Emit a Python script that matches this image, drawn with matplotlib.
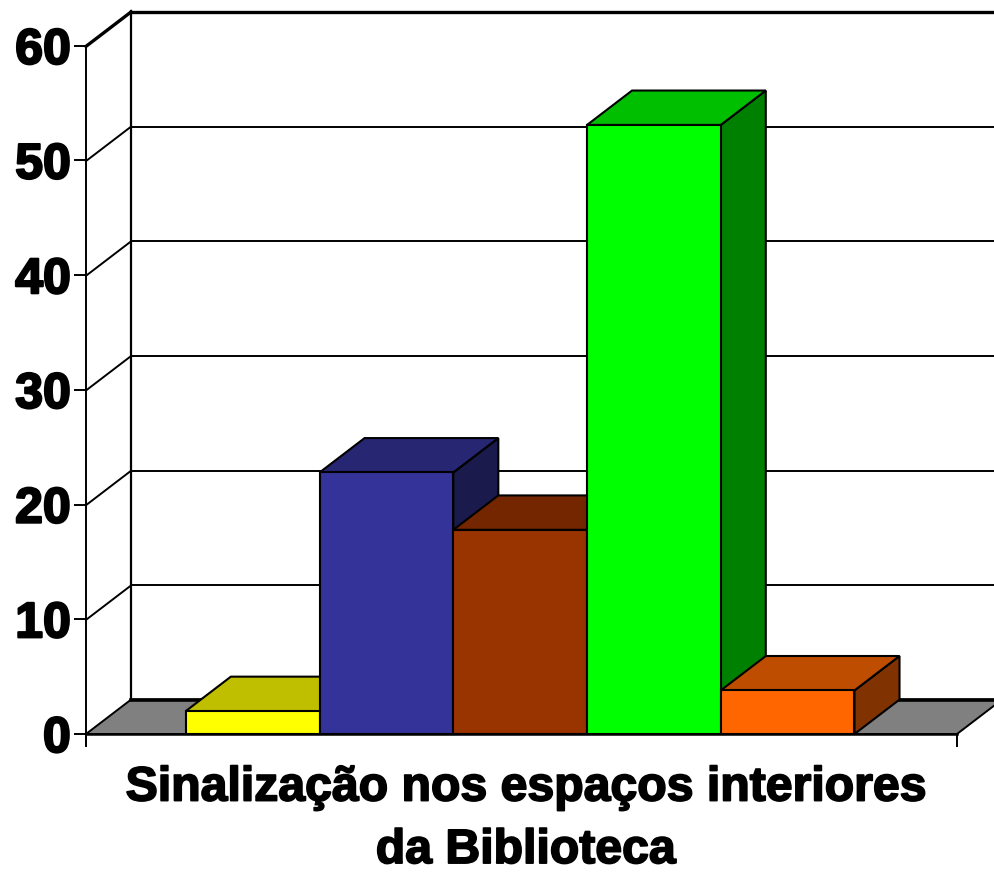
import matplotlib.pyplot as plt
import matplotlib.patheffects as pe

values = [2, 22.8, 17.8, 53.1, 3.8]
front_colors = ['#ffff00', '#333399', '#993300', '#00ff00', '#ff6600']
top_colors = ['#bfbf00', '#262673', '#732600', '#00bf00', '#bf4d00']
side_colors = ['#808000', '#1a1a4d', '#4d1a00', '#008000', '#803300']
y_ticks = [0, 10, 20, 30, 40, 50, 60]
title = 'Sinalização nos espaços interiores\nda Biblioteca'

# unit on x = one slot, 3d offset is in data units
depth_x = 0.336
depth_y = 3.0
floor_end = 6.5
bar_start = 0.745
bar_width = 0.998

plt.rcParams['font.family'] = ['Liberation Sans', 'DejaVu Sans']
fig = plt.figure(figsize=(9.95, 8.72), dpi=100)
ax = fig.add_axes([0, 0, 1, 1])
ax.set_xlim(-86 / 134, (995 - 86) / 134)
ax.set_ylim(-138 / 11.47, 734 / 11.47)

# floor
ax.fill([0, floor_end, floor_end + depth_x, depth_x], [0, 0, depth_y, depth_y],
        facecolor='#808080', edgecolor='black', lw=1.4, zorder=1)
ax.plot([depth_x, floor_end + depth_x], [depth_y, depth_y], color='black', lw=2.6, zorder=1)

# back wall and left wall
for t in y_ticks[1:]:
    lw = 2.4 if t == 60 else 1.4
    ax.plot([0, depth_x], [t - 0.05, t - 0.05 + depth_y], color='black', lw=lw, zorder=1)
    ax.plot([depth_x, floor_end + depth_x], [t - 0.05 + depth_y, t - 0.05 + depth_y], color='black', lw=lw, zorder=1)
ax.plot([depth_x, depth_x], [depth_y, 60 + depth_y], color='black', lw=1.6, zorder=1)

# bars
for i, v in enumerate(values):
    x0 = bar_start + i * bar_width
    x1 = x0 + bar_width
    z = 2 + i
    ax.fill([x1, x1 + depth_x, x1 + depth_x, x1], [0, depth_y, v + depth_y, v],
            facecolor=side_colors[i], edgecolor='black', lw=1.5, zorder=z)
    ax.fill([x0, x1, x1 + depth_x, x0 + depth_x], [v, v, v + depth_y, v + depth_y],
            facecolor=top_colors[i], edgecolor='black', lw=1.5, zorder=z)
    ax.bar(x0, v, width=bar_width, align='edge', color=front_colors[i], edgecolor='black', lw=1.5, zorder=z)

# real axes on the front edge
for s in ['top', 'right']:
    ax.spines[s].set_visible(False)
ax.spines['left'].set_position(('data', 0))
ax.spines['left'].set_bounds(-1, 60)
ax.spines['bottom'].set_position(('data', 0))
ax.spines['bottom'].set_bounds(0, floor_end)
ax.spines['left'].set_linewidth(1.4)
ax.spines['bottom'].set_linewidth(1.8)
ax.spines['left'].set_zorder(20)
ax.spines['bottom'].set_zorder(20)
ax.set_yticks(y_ticks)
ax.set_xticks([0, floor_end])
ax.set_xticklabels([])
ax.tick_params(axis='x', direction='out', length=9, width=1.4)
ax.tick_params(axis='y', direction='out', length=9, width=1.4, pad=2)
for lab in ax.get_yticklabels():
    lab.set_fontsize(36)
    lab.set_fontweight('bold')
    lab.set_path_effects([pe.withStroke(linewidth=1.6, foreground='black')])

ax.text(3.28, -2.75, title, ha='center', va='top', fontsize=34.7, fontweight='bold',
        linespacing=1.5, path_effects=[pe.withStroke(linewidth=1.3, foreground='black')])

fig.savefig('out.png', dpi=100)
